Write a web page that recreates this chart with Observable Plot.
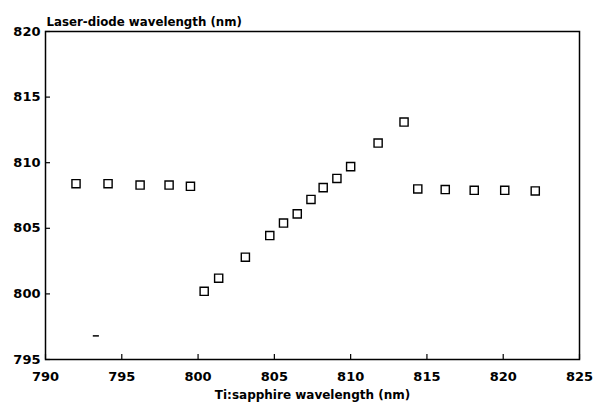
<!DOCTYPE html>
<html>
<head>
<meta charset="utf-8">
<script src="https://cdn.jsdelivr.net/npm/d3@7"></script>
<script src="https://cdn.jsdelivr.net/npm/@observablehq/plot@0.6"></script>
<style>
  html, body { margin: 0; padding: 0; background: #fff; }
  svg { display: block; }
</style>
</head>
<body>
<div id="chart"></div>
<script>
const tiWavelength = [792.0, 794.1, 796.2, 798.1, 799.5,
  800.4, 801.35, 803.1, 804.7, 805.6, 806.5, 807.4, 808.2, 809.1, 810.0, 811.8, 813.5,
  814.4, 816.2, 818.1, 820.1, 822.1];
const ldWavelength = [808.4, 808.4, 808.3, 808.3, 808.2,
  800.2, 801.2, 802.8, 804.45, 805.4, 806.1, 807.2, 808.1, 808.8, 809.7, 811.5, 813.1,
  808.0, 807.95, 807.9, 807.9, 807.85];
const xTicks = [790, 795, 800, 805, 810, 815, 820, 825];
const yTicks = [795, 800, 805, 810, 815, 820];
const strayX1 = [793.1];
const strayX2 = [793.5];
const strayY = [796.8];
const yTitle = "Laser-diode wavelength (nm)";
const xTitle = "Ti:sapphire wavelength (nm)";

const points = tiWavelength.map((x, i) => ({x, y: ldWavelength[i]}));
const stray = strayX1.map((x1, i) => ({x1, x2: strayX2[i], y: strayY[i]}));

const font = "'DejaVu Sans', sans-serif";

const chart = Plot.plot({
  width: 594,
  height: 408,
  marginLeft: 45,
  marginRight: 15,
  marginTop: 31,
  marginBottom: 49,
  style: {fontFamily: font, background: "#fff", color: "#000"},
  x: {domain: [790, 825], ticks: xTicks},
  y: {domain: [795, 820], ticks: yTicks},
  marks: [
    Plot.frame({stroke: "#000", strokeWidth: 1.5}),
    // inward tick marks
    Plot.axisX({ticks: xTicks, tickSize: 5, dy: -5, text: null, label: null, stroke: "#000", strokeWidth: 1.2}),
    Plot.axisY({ticks: yTicks, tickSize: 5, dx: 5, text: null, label: null, stroke: "#000", strokeWidth: 1.2}),
    // tick labels
    Plot.axisX({ticks: xTicks, tickSize: 0, tickPadding: 12, tickFormat: d => String(d), label: null,
      fontSize: 13, fontWeight: "bold", fill: "#000"}),
    Plot.axisY({ticks: yTicks, tickSize: 0, tickPadding: 5, tickFormat: d => String(d), label: null,
      fontSize: 13, fontWeight: "bold", fill: "#000"}),
    Plot.text([yTitle], {frameAnchor: "top-left", text: d => d, dy: -14, dx: 1,
      textAnchor: "start", fontSize: 11.8, fontWeight: "bold", fill: "#000"}),
    Plot.text([xTitle], {frameAnchor: "bottom", text: d => d, dy: 39,
      fontSize: 12, fontWeight: "bold", fill: "#000"}),
    Plot.link(stray, {x1: "x1", x2: "x2", y1: "y", y2: "y", stroke: "#000", strokeWidth: 1.5}),
    Plot.dot(points, {x: "x", y: "y", symbol: "square", r: 4.6, stroke: "#000", strokeWidth: 1.4, fill: "none"})
  ]
});
document.getElementById("chart").appendChild(chart);
</script>
</body>
</html>
